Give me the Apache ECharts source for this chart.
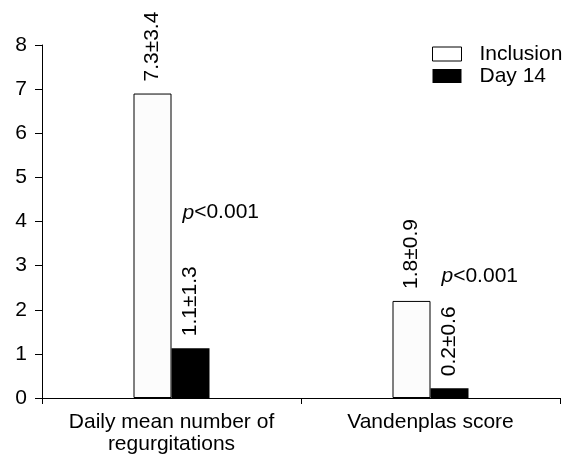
<!DOCTYPE html>
<html>
<head>
<meta charset="utf-8">
<script src="https://cdn.jsdelivr.net/npm/echarts@6/dist/echarts.min.js"></script>
<style>
html,body{margin:0;padding:0;background:#fff;}
#chart{width:562px;height:456px;}
</style>
</head>
<body>
<div id="chart"></div>
<script>
var categories = ['Daily mean number of\nregurgitations', 'Vandenplas score'];
var seriesNames = ['Inclusion', 'Day 14'];
var inclusionValues = [6.9, 2.2];
var day14Values = [1.13, 0.22];
var inclusionLabels = ['7.3±3.4', '1.8±0.9'];
var day14Labels = ['1.1±1.3', '0.2±0.6'];
var pValueLabels = ['<0.001', '<0.001'];
var pValueY = [4.2, 2.77];
var yTicks = [0, 1, 2, 3, 4, 5, 6, 7, 8];

var FONT = 'Liberation Sans, Arial, sans-serif';
var FS = 21;

var chart = echarts.init(document.getElementById('chart'), null, {renderer: 'canvas'});

function barLabel(labels) {
  return {
    show: true,
    position: 'top',
    rotate: 90,
    align: 'left',
    verticalAlign: 'middle',
    distance: 12,
    color: '#000',
    fontFamily: FONT,
    fontSize: FS,
    formatter: function (p) { return labels[p.dataIndex]; }
  };
}

var option = {
  animation: false,
  backgroundColor: '#fff',
  textStyle: {fontFamily: FONT, color: '#000'},
  grid: {left: 42, right: 2, top: 45, bottom: 58, containLabel: false},
  legend: {
    orient: 'vertical',
    left: 432,
    top: 43,
    padding: 0,
    itemWidth: 29,
    itemHeight: 14,
    itemGap: 0,
    icon: 'rect',
    textStyle: {fontFamily: FONT, fontSize: FS, color: '#000', lineHeight: 22, padding: [0, 0, 0, 13]},
    data: [
      {name: seriesNames[0], itemStyle: {color: '#fff', borderColor: '#000', borderWidth: 1}},
      {name: seriesNames[1], itemStyle: {color: '#000'}}
    ]
  },
  xAxis: {
    type: 'category',
    data: categories,
    axisLine: {lineStyle: {color: '#000', width: 1}},
    axisTick: {show: true, length: 6, lineStyle: {color: '#000'}},
    axisLabel: {interval: 0, color: '#000', fontFamily: FONT, fontSize: FS, lineHeight: 22, margin: 13}
  },
  yAxis: {
    type: 'value',
    min: 0,
    max: yTicks[yTicks.length - 1],
    interval: 1,
    axisLine: {show: true, lineStyle: {color: '#000', width: 1}},
    axisTick: {show: true, length: 7, lineStyle: {color: '#000'}},
    axisLabel: {color: '#000', fontFamily: FONT, fontSize: FS, margin: 15},
    splitLine: {show: false}
  },
  series: [
    {
      name: seriesNames[0],
      type: 'bar',
      barWidth: 38,
      barGap: '0%',
      data: inclusionValues,
      itemStyle: {color: '#fcfcfc', borderColor: '#000', borderWidth: 1},
      label: barLabel(inclusionLabels)
    },
    {
      name: seriesNames[1],
      type: 'bar',
      barWidth: 38,
      barGap: '0%',
      data: day14Values,
      itemStyle: {color: '#000'},
      label: barLabel(day14Labels),
      markPoint: {
        symbol: 'circle',
        symbolSize: 0,
        itemStyle: {color: 'transparent'},
        label: {
          show: true,
          position: 'right',
          distance: 0,
          offset: [-8, 0],
          fontFamily: FONT,
          fontSize: FS,
          color: '#000',
          formatter: function (p) { return '{i|p}' + pValueLabels[p.dataIndex]; },
          rich: {i: {fontStyle: 'italic', fontFamily: FONT, fontSize: FS, color: '#000'}}
        },
        data: categories.map(function (c, i) {
          return {coord: [i, pValueY[i]], value: pValueY[i]};
        })
      }
    }
  ]
};
chart.setOption(option);
</script>
</body>
</html>
